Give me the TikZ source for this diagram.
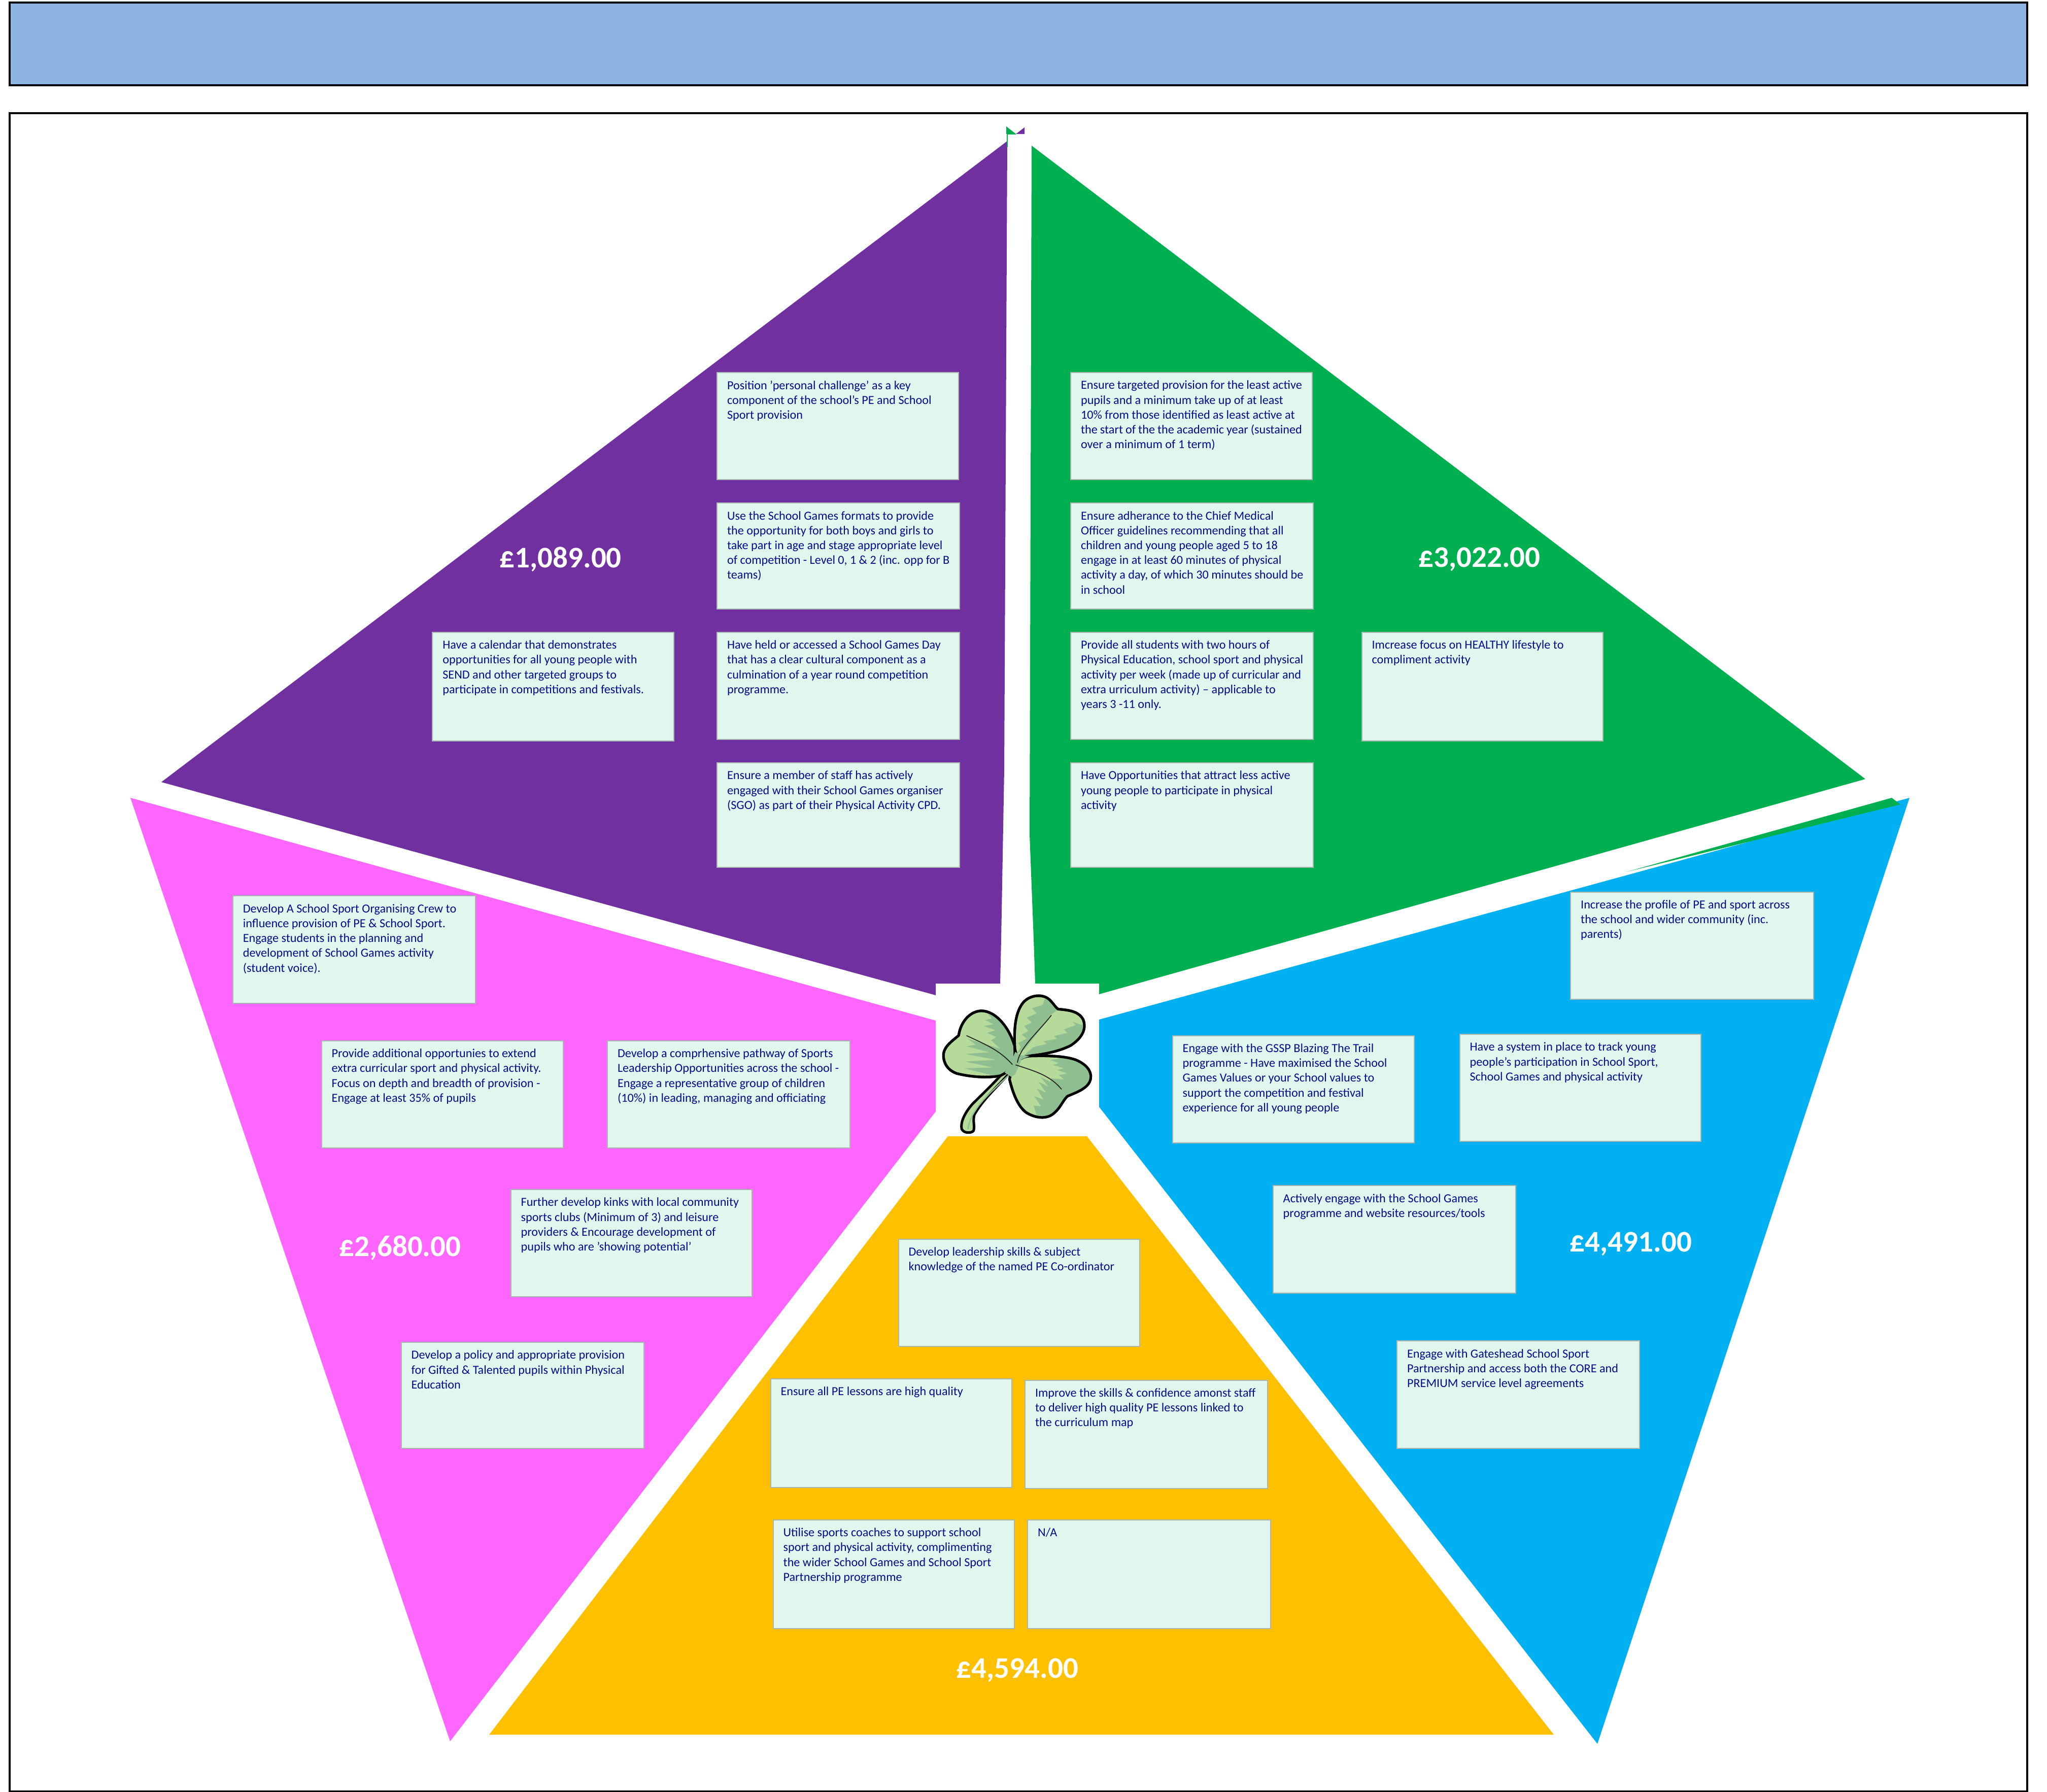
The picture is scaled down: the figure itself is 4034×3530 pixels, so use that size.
\documentclass[tikz,border=0pt]{standalone}
\usepackage{fontspec}
\setmainfont{Carlito}
\definecolor{cPurple}{HTML}{7030A0}
\definecolor{cGreen}{HTML}{00B050}
\definecolor{cBlue}{HTML}{00B0F0}
\definecolor{cPink}{HTML}{FF66FF}
\definecolor{cGold}{HTML}{FFC000}
\definecolor{cHead}{HTML}{8EB4E3}
\definecolor{cNote}{HTML}{E1F6EC}
\definecolor{cEdge}{HTML}{AAB6B0}
\definecolor{cInk}{HTML}{000E8C}
\definecolor{cLeafL}{HTML}{B6DA9A}
\definecolor{cLeafD}{HTML}{8FBF90}
\tikzset{
  frameBox/.style={draw=black,line width=2pt},
  notebox/.style={draw=cEdge,line width=1pt,fill=cNote,anchor=north west,inner xsep=10pt,inner ysep=8pt,
     text=cInk,font=\fontsize{12.1}{14.6}\selectfont},
  amount/.style={text=white,font=\fontsize{29.5}{34}\bfseries\selectfont},
  leaf/.style={fill=cLeafL,draw=black,line width=2.5pt,line join=round},
  leafedge/.style={draw=black,line width=2.5pt,line join=round},
  vein/.style={draw=black!85,line width=0.9pt,line cap=round},
}
\newcommand{\nbox}[6]{%
  \pgfmathsetmacro{\bw}{(#4-#2)*1.286-20}%
  \pgfmathsetmacro{\bh}{(#5-#3)*1.2875-16}%
  \node[notebox] (#1) at ({#2*2.572},{#3*2.572}) {\parbox[t][\bh pt][t]{\bw pt}{\raggedright #6}};}
\begin{document}
\begin{tikzpicture}[x=0.5pt,y=-0.5pt]
\useasboundingbox (0,0) rectangle (4034,3530);
\draw[frameBox,fill=cHead] (19,5) rectangle (3995,168);
\draw[frameBox] (19,223) rectangle (3995,3530);
% sectors
\fill[cPurple] (1985,278) -- (318,1541) -- (1844,1961) -- (1844,1938) -- (1971,1938) -- (1973,1850) -- (1979,1516) -- cycle;
\fill[cGreen] (2033,287) -- (3676,1535) -- (2166,1959) -- (2166,1938) -- (2040,1938) -- (2037,1850) -- (2029,1645) -- cycle;
\fill[cBlue] (3763,1572) -- (3148,3436) -- (2166,2181) -- (2166,2009) -- cycle;
\fill[cGreen] (3728,1572) -- (3745,1585) -- (3205,1718) -- cycle;
\fill[cPink] (257,1572) -- (887,3431) -- (1844,2190) -- (1844,2011) -- cycle;
\fill[cGold] (1868,2239) -- (2142,2239) -- (3062,3418) -- (964,3418) -- cycle;
% flag
\fill[cGreen] (1983,249) -- (2002,264) -- (1983,264) -- cycle;
\fill[cPurple] (2002,264) -- (2019,251) -- (2019,264) -- cycle;
\draw[cGreen,line width=1pt] (2002,264) -- (1985,264) -- (1985,290);
% notes
\nbox{p1}{549}{285}{734}{367}{Position 'personal challenge' as a key\\component of the school's PE and School\\Sport provision}
\nbox{p2}{549}{385}{735}{466}{Use the School Games formats to provide\\the opportunity for both boys and girls to\\take part in age and stage appropriate level\\of competition - Level 0, 1 \& 2 (inc. opp for B\\teams)}
\nbox{p3}{549}{484}{735}{566}{Have held or accessed a School Games Day\\that has a clear cultural component as a\\culmination of a year round competition\\programme.}
\nbox{p4}{549}{584}{735}{664}{Ensure a member of staff has actively\\engaged with their School Games organiser\\(SGO) as part of their Physical Activity CPD.}
\nbox{p5}{331}{484}{516}{567}{Have a calendar that demonstrates\\opportunities for all young people with\\SEND and other targeted groups to\\participate in competitions and festivals.}
\nbox{g1}{820}{285}{1005}{367}{Ensure targeted provision for the least active\\pupils and a minimum take up of at least\\10\% from those identified as least active at\\the start of the the academic year (sustained\\over a minimum of 1 term)}
\nbox{g2}{820}{385}{1006}{466}{Ensure adherance to the Chief Medical\\Officer guidelines recommending that all\\children and young people aged 5 to 18\\engage in at least 60 minutes of physical\\activity a day, of which 30 minutes should be\\in school}
\nbox{g3}{820}{484}{1006}{566}{Provide all students with two hours of\\Physical Education, school sport and physical\\activity per week (made up of curricular and\\extra urriculum activity) – applicable to\\years 3 -11 only.}
\nbox{g4}{820}{584}{1006}{664}{Have Opportunities that attract less active\\young people to participate in physical\\activity}
\nbox{g5}{1043}{484}{1228}{567}{Imcrease focus on HEALTHY lifestyle to\\compliment activity}
\nbox{b1}{1203}{683}{1389}{765}{Increase the profile of PE and sport across\\the school and wider community (inc.\\parents)}
\nbox{b2}{1118}{792}{1303}{874}{Have a system in place to track young\\people's participation in School Sport,\\School Games and physical activity}
\nbox{b3}{898}{793}{1083}{875}{Engage with the GSSP Blazing The Trail\\programme - Have maximised the School\\Games Values or your School values to\\support the competition and festival\\experience for all young people}
\nbox{b4}{975}{908}{1161}{990}{Actively engage with the School Games\\programme and website resources/tools}
\nbox{b5}{1070}{1027}{1256}{1109}{Engage with Gateshead School Sport\\Partnership and access both the CORE and\\PREMIUM service level agreements}
\nbox{m1}{178}{686}{364}{768}{Develop A School Sport Organising Crew to\\influence provision of PE \& School Sport.\\Engage students in the planning and\\development of School Games activity\\(student voice).}
\nbox{m2}{246}{797}{431}{879}{Provide additional opportunies to extend\\extra curricular sport and physical activity.\\Focus on depth and breadth of provision -\\Engage at least 35\% of pupils}
\nbox{m3}{465}{797}{651}{879}{Develop a comprhensive pathway of Sports\\Leadership Opportunities across the school -\\Engage a representative group of children\\(10\%) in leading, managing and officiating}
\nbox{m4}{391}{911}{576}{993}{Further develop kinks with local community\\sports clubs (Minimum of 3) and leisure\\providers \& Encourage development of\\pupils who are 'showing potential'}
\nbox{m5}{307}{1028}{493}{1109}{Develop a policy and appropriate provision\\for Gifted \& Talented pupils within Physical\\Education}
\nbox{y1}{688}{949}{873}{1031}{Develop leadership skills \& subject\\knowledge of the named PE Co-ordinator}
\nbox{y2}{590}{1056}{775}{1139}{Ensure all PE lessons are high quality}
\nbox{y3}{785}{1057}{971}{1140}{Improve the skills \& confidence amonst staff\\to deliver high quality PE lessons linked to\\the curriculum map}
\nbox{y4}{592}{1164}{777}{1247}{Utilise sports coaches to support school\\sport and physical activity, complimenting\\the wider School Games and School Sport\\Partnership programme}
\nbox{y5}{787}{1164}{973}{1247}{N/A}
% amounts
\node[amount] (a1) at ({429.5*2.572},{428*2.575}) {£1,089.00};
\node[amount] (a2) at ({1133.5*2.572},{428*2.575}) {£3,022.00};
\node[amount] (a3) at ({1249.5*2.572},{952*2.575}) {£4,491.00};
\node[amount] (a4) at ({306.5*2.572},{955*2.575}) {£2,680.00};
\node[amount] (a5) at ({779.5*2.572},{1278*2.575}) {£4,594.00};
% shamrock
\begin{scope}[shift={(1750,1850)},x=0.16667pt,y=-0.16667pt]
  % stem
  \path[leaf] (735,775) .. controls (640,880) and (560,950) .. (510,1040) .. controls (500,1080) and (515,1110) .. (505,1135) .. controls (490,1150) and (450,1150) .. (436,1125) .. controls (425,1080) and (460,1020) .. (500,975) .. controls (560,915) and (620,860) .. (690,780) -- cycle;
  \draw[cLeafD,line width=1.2pt] (725,795) .. controls (610,905) and (490,1000) .. (472,1125);
  % left leaf
  \def\lpath{(748,745) .. controls (720,780) and (690,795) .. (665,808) .. controls (590,825) and (480,815) .. (405,795) .. controls (350,775) and (325,730) .. (328,680) .. controls (335,630) and (385,600) .. (418,570) .. controls (425,510) and (470,430) .. (550,425) .. controls (640,425) and (720,530) .. (750,640) -- cycle}
  \path[leaf] \lpath;
  \begin{scope}
    \clip \lpath;
    \fill[cLeafD] (590,445) -- (615,470) -- (575,480) -- (625,505) -- (565,515) -- (635,540) -- (585,555) -- (640,580) -- (610,600) -- (665,650) -- (470,590) -- (520,625) -- (465,635) -- (600,670) -- (455,680) -- (640,715) -- (455,725) -- (620,760) -- (450,765) -- (650,815) -- (765,760) -- (765,600) -- (690,450) -- cycle;
  \end{scope}
  \path[leafedge] \lpath;
  % top-right leaf
  \def\tpath{(750,650) .. controls (745,560) and (745,440) .. (800,375) .. controls (840,330) and (920,320) .. (960,365) .. controls (980,385) and (990,405) .. (1005,415) .. controls (1060,420) and (1130,425) .. (1155,480) .. controls (1175,540) and (1140,590) .. (1080,630) .. controls (1010,665) and (930,680) .. (845,690) -- (770,730) -- cycle}
  \path[leaf] \tpath;
  \begin{scope}
    \clip \tpath;
    \fill[cLeafD] (760,680) -- (785,640) -- (770,615) -- (820,590) -- (790,565) -- (830,545) -- (805,515) -- (850,495) -- (820,465) -- (880,440) -- (850,410) -- (915,390) -- (930,345) -- (1010,415) -- (960,450) -- (880,560) -- (810,650) -- cycle;
    \fill[cLeafD] (790,700) -- (860,640) -- (940,620) -- (920,605) -- (1000,590) -- (980,575) -- (1060,555) -- (1040,535) -- (1110,510) -- (1090,490) -- (1180,520) -- (1140,640) -- (950,700) -- cycle;
  \end{scope}
  \path[leafedge] \tpath;
  % bottom-right leaf
  \def\bpath{(718,830) .. controls (725,790) and (760,720) .. (790,705) .. controls (810,695) and (830,692) .. (850,692) .. controls (930,690) and (1040,690) .. (1110,715) .. controls (1170,740) and (1205,780) .. (1198,825) .. controls (1190,880) and (1120,905) .. (1060,930) .. controls (1030,960) and (1020,1000) .. (975,1035) .. controls (930,1070) and (860,1055) .. (815,1025) .. controls (770,990) and (740,920) .. cycle}
  \path[leaf] \bpath;
  \begin{scope}
    \clip \bpath;
    \fill[cLeafD] (960,715) -- (1010,735) -- (975,745) -- (1040,765) -- (1000,775) -- (1060,795) -- (1010,805) -- (1040,830) -- (965,825) -- (960,845) -- (900,815) -- (950,875) -- (890,845) -- (935,910) -- (880,885) -- (920,950) -- (865,930) -- (905,990) -- (860,985) -- (885,1060) -- (1060,1060) -- (1220,900) -- (1220,700) -- (1080,700) -- cycle;
  \end{scope}
  \path[leafedge] \bpath;
  % joins and veins
  \fill[cLeafD] (752,668) -- (785,688) -- (838,692) -- (790,712) -- (752,800) -- (728,815) -- (690,790) -- (718,748) -- cycle;
  \draw[vein] (465,572) .. controls (590,630) and (660,660) .. (735,742);
  \draw[vein] (965,452) .. controls (880,560) and (780,640) .. (765,730);
  \draw[vein] (755,745) .. controls (880,785) and (960,810) .. (1025,888);
\end{scope}
\end{tikzpicture}
\end{document}
